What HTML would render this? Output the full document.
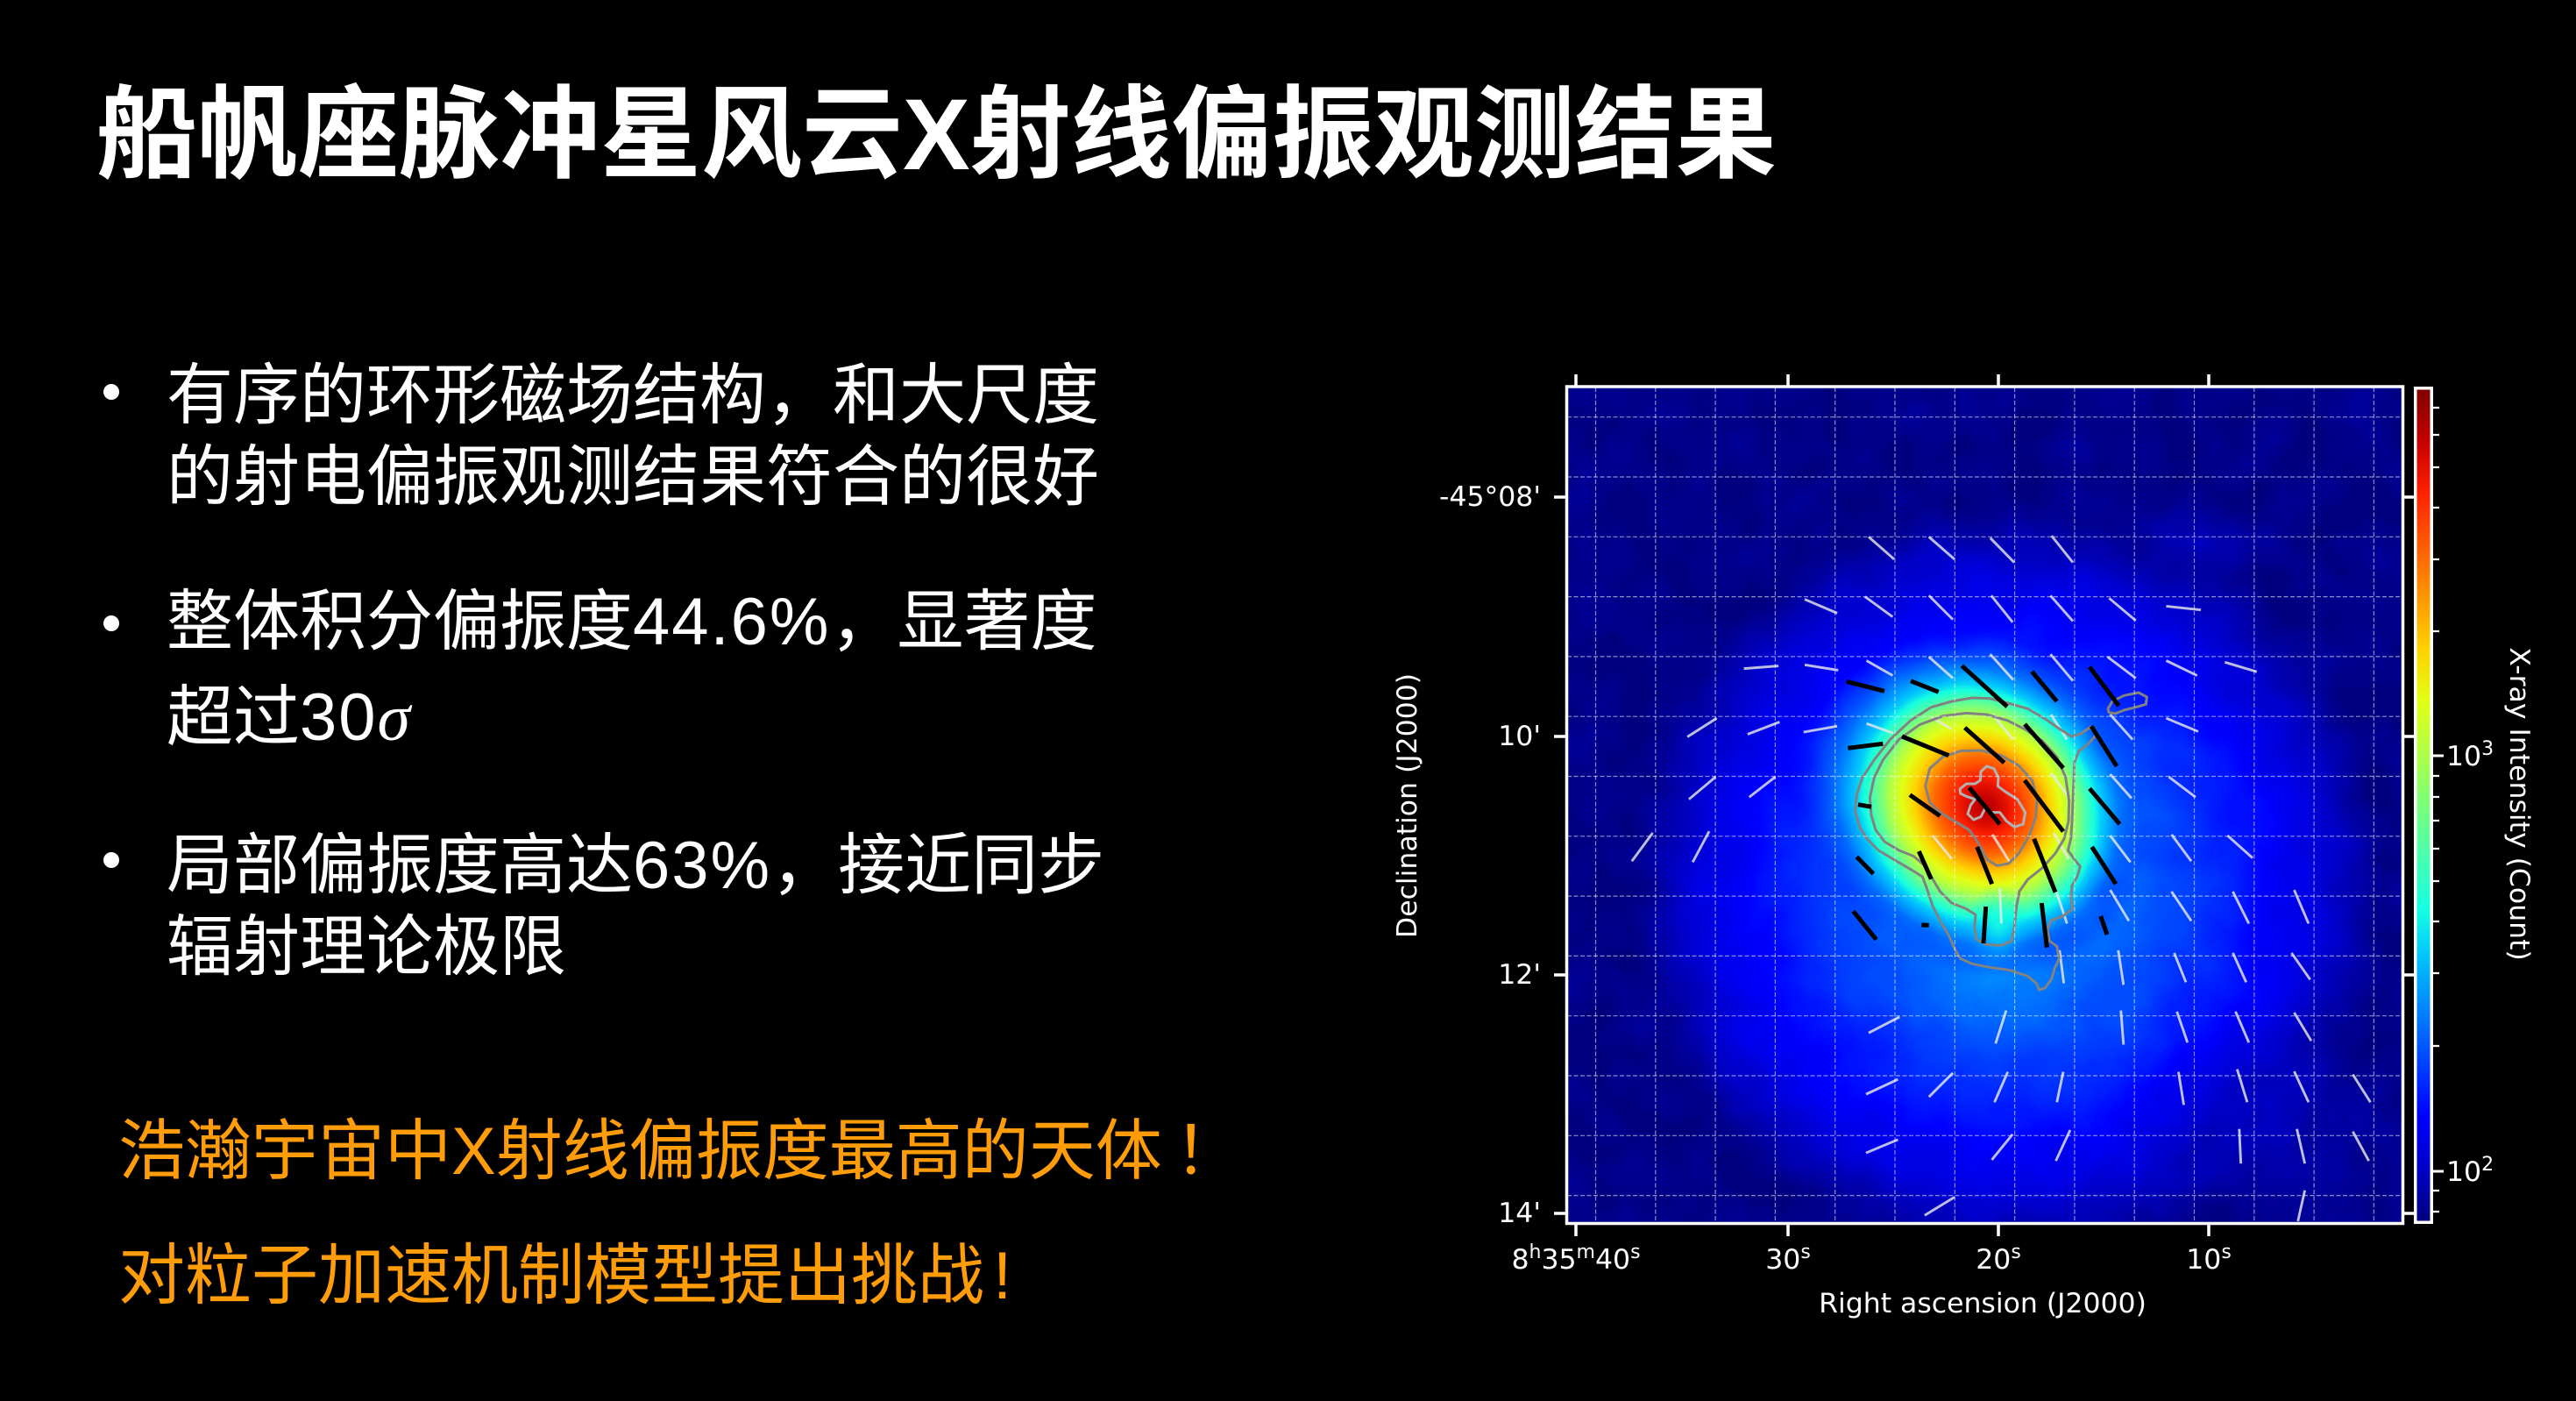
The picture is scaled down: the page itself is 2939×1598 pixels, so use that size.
<!DOCTYPE html>
<html><head><meta charset="utf-8">
<style>
html,body{margin:0;padding:0;background:#000;}
body{width:2939px;height:1598px;overflow:hidden;position:relative;}
.t{position:absolute;white-space:nowrap;font-family:"Liberation Sans","Noto Sans CJK SC",sans-serif;color:#fff;}
.title{left:110px;top:97px;font-size:115px;line-height:115px;font-weight:bold;}
.b{left:190px;font-size:76px;line-height:76px;}
.o{left:135px;font-size:76px;line-height:76px;color:#ff9c0a;}
.dot{position:absolute;width:18px;height:18px;border-radius:50%;background:#fff;left:118px;}
.sig{font-family:"Liberation Serif",serif;font-style:italic;}
.d{letter-spacing:2px;}
svg{position:absolute;left:0;top:0;}
</style></head><body>
<div class="t title">船帆座脉冲星风云X射线偏振观测结果</div>

<div class="dot" style="top:438px"></div>
<div class="t b" style="top:414px">有序的环形磁场结构，和大尺度</div>
<div class="t b" style="top:507px">的射电偏振观测结果符合的很好</div>
<div class="dot" style="top:702px"></div>
<div class="t b" style="top:672px">整体积分偏振度<span class="d">44.6%</span>，显著度</div>
<div class="t b" style="top:781px">超过<span class="d">30</span><span class="sig">σ</span></div>
<div class="dot" style="top:972px"></div>
<div class="t b" style="top:950px">局部偏振度高达<span class="d">63%</span>，接近同步</div>
<div class="t b" style="top:1043px">辐射理论极限</div>

<div class="t o" style="top:1276px">浩瀚宇宙中X射线偏振度最高的天体<span style="margin-left:14px">！</span></div>
<div class="t o" style="top:1418px">对粒子加速机制模型提出挑战<span style="margin-left:10px">!</span></div>

<svg width="2939" height="1598" viewBox="0 0 2939 1598" xmlns="http://www.w3.org/2000/svg">
<defs>
  <clipPath id="clipH"><rect x="0" y="0" width="1568" height="1568"/></clipPath>
  <filter id="jet" filterUnits="userSpaceOnUse" x="-20" y="-20" width="1608" height="1608" color-interpolation-filters="sRGB">
    <feTurbulence type="fractalNoise" baseFrequency="0.011" numOctaves="2" seed="7" result="tn"/>
    <feColorMatrix in="tn" type="matrix" values="1 0 0 0 0  1 0 0 0 0  1 0 0 0 0  0 0 0 0 1" result="n"/>
    <feComposite in="SourceGraphic" in2="n" operator="arithmetic" k1="-0.05" k2="1.025" k3="0.05" k4="-0.025" result="m"/>
    <feComponentTransfer in="m">
      <feFuncR type="table" tableValues="0 0 0 0 0 0 0.081 0.282 0.484 0.685 0.887 1 1 1 1 0.78 0.5"/>
      <feFuncG type="table" tableValues="0 0 0 0.25 0.5 0.75 1 1 1 1 1 0.824 0.593 0.361 0.13 0 0"/>
      <feFuncB type="table" tableValues="0.5 0.784 1 1 1 1 0.887 0.685 0.484 0.282 0.081 0 0 0 0 0 0"/>
    </feComponentTransfer>
  </filter>
  <radialGradient id="halo" gradientUnits="userSpaceOnUse" cx="830" cy="930" r="720">
    <stop offset="0" stop-color="rgb(60,60,60)"/>
    <stop offset="0.3" stop-color="rgb(57,57,57)"/>
    <stop offset="0.46" stop-color="rgb(48,48,48)"/>
    <stop offset="0.65" stop-color="rgb(34,34,34)"/>
    <stop offset="0.8" stop-color="rgb(22,22,22)"/>
    <stop offset="0.9" stop-color="rgb(11,11,11)"/>
    <stop offset="0.96" stop-color="rgb(4,4,4)"/>
    <stop offset="1" stop-color="rgb(2,2,2)"/>
  </radialGradient>
  <radialGradient id="core" gradientUnits="userSpaceOnUse" cx="770" cy="790" r="318" fx="785" fy="778" gradientTransform="translate(778 785) rotate(45) scale(1.08 0.96) translate(-778 -785)">
    <stop offset="0" stop-color="rgb(245,245,245)"/>
    <stop offset="0.13" stop-color="rgb(230,230,230)"/>
    <stop offset="0.28" stop-color="rgb(204,204,204)"/>
    <stop offset="0.4" stop-color="rgb(173,173,173)"/>
    <stop offset="0.52" stop-color="rgb(145,145,145)"/>
    <stop offset="0.62" stop-color="rgb(110,110,110)"/>
    <stop offset="0.7" stop-color="rgb(84,84,84)"/>
    <stop offset="0.817" stop-color="rgb(59,59,59)"/>
    <stop offset="1" stop-color="rgb(45,45,45)" stop-opacity="0"/>
  </radialGradient>
  <radialGradient id="ext" gradientUnits="userSpaceOnUse" cx="815" cy="1100" r="200" gradientTransform="translate(815 1100) scale(1 0.85) translate(-815 -1100)">
    <stop offset="0" stop-color="rgb(69,69,69)" stop-opacity="0.85"/>
    <stop offset="0.6" stop-color="rgb(61,61,61)" stop-opacity="0.5"/>
    <stop offset="1" stop-color="rgb(51,51,51)" stop-opacity="0"/>
  </radialGradient>
  <radialGradient id="tail" gradientUnits="userSpaceOnUse" cx="810" cy="1010" r="80" gradientTransform="translate(810 1010) scale(0.75 1) translate(-810 -1010)">
    <stop offset="0" stop-color="rgb(97,97,97)" stop-opacity="0.8"/>
    <stop offset="1" stop-color="rgb(77,77,77)" stop-opacity="0"/>
  </radialGradient>
  <radialGradient id="tr" gradientUnits="userSpaceOnUse" cx="1180" cy="290" r="220" gradientTransform="translate(1180 290) scale(1 0.5) translate(-1180 -290)">
    <stop offset="0" stop-color="rgb(16,16,16)" stop-opacity="0.9"/>
    <stop offset="1" stop-color="rgb(6,6,6)" stop-opacity="0"/>
  </radialGradient>
  <radialGradient id="br" gradientUnits="userSpaceOnUse" cx="1350" cy="1400" r="300" gradientTransform="translate(1350 1400) scale(1 0.85) translate(-1350 -1400)">
    <stop offset="0" stop-color="rgb(17,17,17)" stop-opacity="0.8"/>
    <stop offset="1" stop-color="rgb(6,6,6)" stop-opacity="0"/>
  </radialGradient>
  <linearGradient id="cbar" x1="0" y1="1" x2="0" y2="0">
    <stop offset="0" stop-color="rgb(0,0,128)"/>
    <stop offset="0.0625" stop-color="rgb(0,0,200)"/>
    <stop offset="0.125" stop-color="rgb(0,0,255)"/>
    <stop offset="0.1875" stop-color="rgb(0,64,255)"/>
    <stop offset="0.25" stop-color="rgb(0,128,255)"/>
    <stop offset="0.3125" stop-color="rgb(0,191,255)"/>
    <stop offset="0.375" stop-color="rgb(21,255,226)"/>
    <stop offset="0.4375" stop-color="rgb(72,255,175)"/>
    <stop offset="0.5" stop-color="rgb(123,255,123)"/>
    <stop offset="0.5625" stop-color="rgb(175,255,72)"/>
    <stop offset="0.625" stop-color="rgb(226,255,21)"/>
    <stop offset="0.6875" stop-color="rgb(255,210,0)"/>
    <stop offset="0.75" stop-color="rgb(255,151,0)"/>
    <stop offset="0.8125" stop-color="rgb(255,92,0)"/>
    <stop offset="0.875" stop-color="rgb(255,33,0)"/>
    <stop offset="0.9375" stop-color="rgb(199,0,0)"/>
    <stop offset="1" stop-color="rgb(128,0,0)"/>
  </linearGradient>
</defs>

<!-- heatmap in zoom units (1568 = 954px) -->
<g transform="translate(1787,442) scale(0.6084)">
  <g clip-path="url(#clipH)">
    <g filter="url(#jet)">
      <rect x="-100" y="-100" width="1768" height="1768" fill="url(#halo)"/>
      <rect x="-100" y="-100" width="1768" height="1768" fill="url(#tr)"/>
      <rect x="-100" y="-100" width="1768" height="1768" fill="url(#br)"/>
      <rect x="-100" y="-100" width="1768" height="1768" fill="url(#ext)"/>
      <rect x="-100" y="-100" width="1768" height="1768" fill="url(#core)"/>
      <rect x="-100" y="-100" width="1768" height="1768" fill="url(#tail)"/>
    </g>
    <!-- white vectors -->
    <path fill="none" stroke="#e8e8e8" stroke-opacity="0.82" stroke-width="4.8" d="M567 280L615 322M680 280L728 322M795 282L840 328M910 278L950 328
M447 397L508 423M560 392L612 430M680 390L725 435M797 390L837 440M908 390L950 438M1018 395L1068 437M1125 410L1190 417
M333 527L398 522M447 520L510 530M563 512L612 540M680 505L725 545M795 500L838 548M908 500L950 550M1015 505L1068 545M1125 512L1183 540M1235 515L1295 533
M227 655L282 620M340 650L400 627M445 646L508 635M563 630L613 648M685 618L722 640M799 613L838 660M909 613L939 660M1020 613L1062 660M1125 620L1185 645
M230 772L280 730M343 768L392 730M909 723L945 772M1020 725L1060 770M1130 730L1180 768
M123 888L162 835M237 890L268 832M687 840L723 884M799 838L832 890M914 835L942 884M1020 840L1058 890M1135 838L1172 888M1240 840L1287 882
M813 939L816 1005M917 939L939 1005M1020 942L1055 1000M1135 945L1172 1000M1250 945L1280 1005M1365 942L1392 1005
M925 1055L933 1117M1035 1055L1045 1120M1140 1060L1162 1115M1250 1060L1275 1115M1360 1060L1395 1110
M567 1210L625 1180M805 1230L825 1168M1040 1168L1045 1232M1145 1170L1165 1228M1255 1170L1280 1228M1365 1172L1397 1225
M562 1325L622 1297M680 1330L725 1285M803 1340L828 1283M920 1340L932 1283M1148 1283L1158 1345M1258 1278L1277 1340M1365 1282L1392 1340M1475 1288L1508 1340
M562 1435L622 1410M798 1448L837 1400M918 1450L945 1392M1262 1390L1265 1455M1370 1390L1385 1455M1475 1395L1505 1450
M672 1552L728 1518M1372 1563L1385 1505"/>
    <!-- contours and black vectors in finer zoom units -->
    <g transform="translate(481.6,489.8) scale(0.5479)">
      <g fill="none" stroke="#828282" stroke-width="9" stroke-linejoin="round">
        <path d="M110 555L115 500L135 440L175 380L230 310L300 245L370 200L440 180L510 168L570 170L630 185L700 205L760 240L810 275L850 300L880 292L915 268L935 295L905 328L875 350L860 390L858 450L855 520L852 590L848 650L838 690L860 720L880 745L870 780L852 810L848 850L855 890L820 915L780 930L768 960L775 1000L800 1018L808 1060L792 1095L782 1130L760 1160L740 1168L730 1145L700 1120L640 1100L570 1090L510 1078L470 1060L452 1030L430 980L400 930L375 880L355 820L340 780L300 755L240 720L190 690L150 650L125 610Z"/>
        <path d="M160 510L175 440L205 380L260 310L330 260L410 230L490 220L560 225L630 245L690 275L750 315L800 370L830 440L842 520L840 590L825 650L795 700L750 750L700 790L672 830L662 880L655 950L645 1000L610 1015L560 1012L525 995L518 950L522 910L490 890L440 870L400 830L370 780L345 740L310 710L260 690L210 660L180 620L165 570Z"/>
        <path d="M350 470L365 410L410 370L470 350L540 348L610 365L670 400L715 450L732 510L728 575L705 640L670 700L635 735L595 742L560 720L535 670L500 620L450 590L400 560L365 525Z"/>
        <path d="M975 205L990 180L1030 160L1080 150L1108 165L1105 190L1070 200L1030 210L1000 222L978 218Z"/>
        <path stroke="#b2b2b2" d="M468 480L490 462L520 462L538 450L540 420L560 402L585 410L600 440L598 470L625 490L665 515L692 560L685 600L655 610L628 590L605 560L575 560L555 545L540 575L515 585L495 565L505 535L520 515L490 505L470 495Z"/>
      </g>
      <path fill="none" stroke="#000" stroke-width="15" d="M80 112L210 145M300 110L395 148M475 58L630 198M715 78L800 180M912 62L1012 195M85 340L205 325M270 300L430 365M485 270L620 390M690 258L822 408M918 265L1005 402M120 533L165 541M297 500L400 572M500 475L605 600M690 450L822 625M912 478L1015 600M115 712L172 770M328 693L370 788M527 678L578 805M722 650L795 833M920 678L1002 805M103 898L182 995M337 945L362 946M557 882L549 1008M748 870L766 1022M950 915L972 978"/>
    </g>
  </g>
</g>

<!-- grid -->
<g stroke="#ffffff" stroke-opacity="0.55" stroke-width="1.2" stroke-dasharray="5 2.5" fill="none">
  <path d="M1820.5 442V1395M1888.8 442V1395M1957.1 442V1395M2025.4 442V1395M2093.7 442V1395M2162 442V1395M2230.3 442V1395M2298.6 442V1395M2366.9 442V1395M2435.2 442V1395M2503.5 442V1395M2571.8 442V1395M2640.1 442V1395M2708.4 442V1395"/>
  <path d="M1788 475.7H2741M1788 544H2741M1788 612.3H2741M1788 680.6H2741M1788 748.9H2741M1788 817.2H2741M1788 885.5H2741M1788 953.8H2741M1788 1022.1H2741M1788 1090.4H2741M1788 1158.7H2741M1788 1227H2741M1788 1295.3H2741M1788 1363.6H2741"/>
</g>

<!-- frame -->
<rect x="1787.5" y="441" width="954" height="954.5" fill="none" stroke="#fff" stroke-width="3.5"/>
<!-- ticks -->
<g stroke="#fff" stroke-width="3.5">
  <path d="M1798 441V427M2040 441V427M2280 441V427M2520 441V427"/>
  <path d="M1798 1396V1410M2040 1396V1410M2280 1396V1410M2520 1396V1410"/>
  <path d="M1787 567H1773M1787 840H1773M1787 1112H1773M1787 1384H1773"/>
  <path d="M2742 567H2754M2742 840H2754M2742 1112H2754M2742 1384H2754"/>
</g>

<!-- colorbar -->
<rect x="2754" y="441" width="22" height="955" fill="#fff"/>
<rect x="2757.5" y="444.5" width="15" height="948" fill="url(#cbar)"/>
<g stroke="#fff">
  <path stroke-width="3" d="M2776 862H2788M2776 1336H2788"/>
  <path stroke-width="2.2" d="M2776 720H2783M2776 638H2783M2776 579H2783M2776 533H2783M2776 496H2783M2776 465H2783M2776 1193H2783M2776 1110H2783M2776 1051H2783M2776 1005H2783M2776 968H2783M2776 936H2783M2776 909H2783M2776 885H2783M2776 1358H2783M2776 1382H2783"/>
</g>

<!-- labels -->
<g font-family="DejaVu Sans, sans-serif" font-size="31.5" fill="#fff">
  <text x="1758" y="577" text-anchor="end">-45°08'</text>
  <text x="1758" y="850" text-anchor="end">10'</text>
  <text x="1758" y="1122" text-anchor="end">12'</text>
  <text x="1758" y="1394" text-anchor="end">14'</text>

  <text x="1798" y="1447" text-anchor="middle">8<tspan dy="-12" font-size="22">h</tspan><tspan dy="12">35</tspan><tspan dy="-12" font-size="22">m</tspan><tspan dy="12">40</tspan><tspan dy="-12" font-size="22">s</tspan></text>
  <text x="2040" y="1447" text-anchor="middle">30<tspan dy="-12" font-size="22">s</tspan></text>
  <text x="2280" y="1447" text-anchor="middle">20<tspan dy="-12" font-size="22">s</tspan></text>
  <text x="2520" y="1447" text-anchor="middle">10<tspan dy="-12" font-size="22">s</tspan></text>

  <text x="2262" y="1497" text-anchor="middle">Right ascension (J2000)</text>
  <text transform="translate(1616,919) rotate(-90)" text-anchor="middle">Declination (J2000)</text>
  <text transform="translate(2864,917) rotate(90)" text-anchor="middle">X-ray Intensity (Count)</text>

  <text x="2791" y="873">10<tspan dy="-12" font-size="22">3</tspan></text>
  <text x="2791" y="1347">10<tspan dy="-12" font-size="22">2</tspan></text>
</g>
</svg>
</body></html>
